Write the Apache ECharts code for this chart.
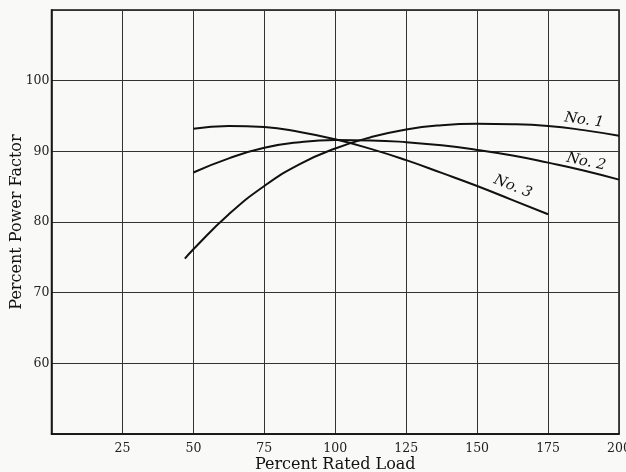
<!DOCTYPE html>
<html>
<head>
<meta charset="utf-8">
<script src="https://cdn.jsdelivr.net/npm/echarts@6/dist/echarts.min.js"></script>
<style>html,body{margin:0;padding:0;background:#f9f9f8;}#c{width:626px;height:472px;}</style>
</head>
<body>
<div id="c"></div>
<script>
// Data (Percent Rated Load, Percent Power Factor)
const no1 = [[47,74.8],[50,76.15],[62.5,81.1],[75,85.1],[87.5,88.2],[100,90.4],[112.5,92.0],[125,93.1],[137.5,93.7],[150,93.9],[162.5,93.85],[175,93.6],[187.5,93.0],[200,92.2]];
const no2 = [[50,87.0],[62.5,89.0],[75,90.5],[87.5,91.3],[100,91.6],[112.5,91.55],[125,91.3],[137.5,90.85],[150,90.2],[162.5,89.4],[175,88.4],[187.5,87.3],[200,86.0]];
const no3 = [[50,93.2],[62.5,93.6],[75,93.45],[87.5,92.75],[100,91.7],[112.5,90.35],[125,88.75],[137.5,86.95],[150,85.1],[162.5,83.1],[175,81.1]];
const seriesNames = ['No. 1','No. 2','No. 3'];
const labelAnchors = [[187.7,94.4],[188.4,88.5],[162.6,85.0]];
const labelAngles = [-8,-12,-22];
const xTicks = [25,50,75,100,125,150,175,200];
const yTicks = [60,70,80,90,100];

const font = 'DejaVu Serif';
const chart = echarts.init(document.getElementById('c'), null, {renderer:'canvas'});
const datasets = [no1,no2,no3];
chart.setOption({
  backgroundColor:'#f9f9f8',
  animation:false,
  grid:{left:51.5,right:7,top:10,bottom:38,outerBoundsMode:'none',containLabel:false,
    show:true,borderColor:'#111',borderWidth:1.5,backgroundColor:'transparent'},
  xAxis:{type:'value',min:0,max:200,interval:25,
    name:'Percent Rated Load',nameLocation:'middle',nameGap:23,nameMoveOverlap:false,
    nameTextStyle:{fontFamily:font,fontSize:16,color:'#111'},
    axisLine:{show:true,lineStyle:{color:'#111',width:1.5}},
    axisTick:{show:false},
    axisLabel:{margin:8,fontFamily:font,fontSize:12.5,color:'#222',
      formatter:v=>xTicks.includes(v)?String(v):''},
    splitLine:{show:true,lineStyle:{color:'#333',width:1}}},
  yAxis:{type:'value',min:50,max:110,interval:10,
    name:'Percent Power Factor',nameLocation:'middle',nameGap:27,nameMoveOverlap:false,
    nameTextStyle:{fontFamily:font,fontSize:16,color:'#111'},
    axisLine:{show:true,lineStyle:{color:'#111',width:1.5}},
    axisTick:{show:false},
    axisLabel:{margin:2,fontFamily:font,fontSize:12.5,color:'#222',
      formatter:v=>yTicks.includes(v)?String(v):''},
    splitLine:{show:true,lineStyle:{color:'#333',width:1}}},
  series: datasets.map((d,i)=>({
    type:'line',name:seriesNames[i],data:d,smooth:0.5,showSymbol:false,
    lineStyle:{color:'#111',width:2},
    markPoint:{symbol:'circle',symbolSize:0,silent:true,
      data:[{coord:labelAnchors[i],value:seriesNames[i]}],
      label:{show:true,position:'inside',formatter:seriesNames[i],rotate:labelAngles[i],
        fontFamily:font,fontStyle:'italic',fontSize:14.5,color:'#111'}}
  }))
});
</script>
</body>
</html>
